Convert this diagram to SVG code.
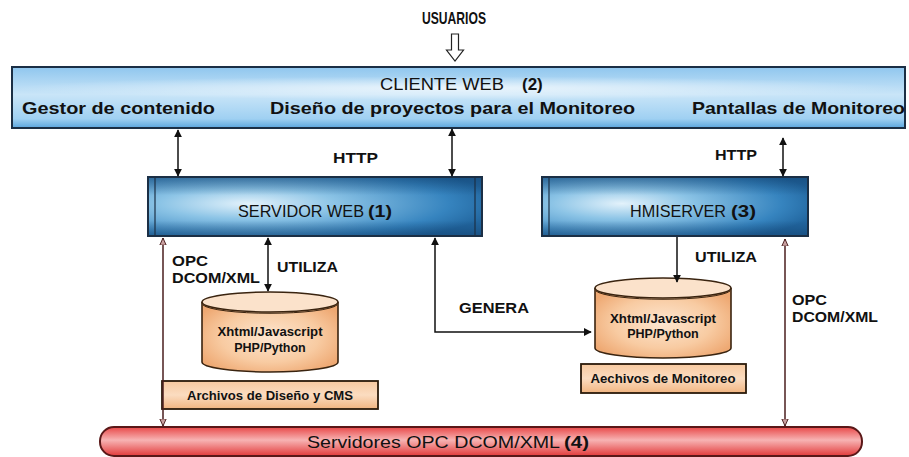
<svg xmlns="http://www.w3.org/2000/svg" width="909" height="457" viewBox="0 0 909 457">
  <defs>
    <style>
      .b { font-family: "Liberation Sans", Arial, sans-serif; font-weight: bold; fill: #111; }
      .r { font-family: "Liberation Sans", Arial, sans-serif; fill: #111; }
      .ln { stroke: #111; stroke-width: 1.5; fill: none; }
      .opc { stroke: #4a1e1e; stroke-width: 1.5; fill: none; }
      .box { stroke: #1b2f45; stroke-width: 2; }
      .cyl { fill: url(#peach); stroke: #3a2410; stroke-width: 1.6; }
      .file { fill: url(#peachFlat); stroke: #2a1a0a; stroke-width: 1.8; }
    </style>
    <linearGradient id="client" x1="0" y1="0" x2="0" y2="1">
      <stop offset="0" stop-color="#8fc6ee"/>
      <stop offset="0.45" stop-color="#c9e5f8"/>
      <stop offset="0.85" stop-color="#9fd0f2"/>
      <stop offset="1" stop-color="#5aa6de"/>
    </linearGradient>
    <radialGradient id="clientGlow" cx="0.5" cy="0.35" r="0.5" gradientTransform="matrix(1 0 0 0.4 0 0.2)">
      <stop offset="0" stop-color="#ffffff" stop-opacity="0.7"/>
      <stop offset="1" stop-color="#ffffff" stop-opacity="0"/>
    </radialGradient>
    <radialGradient id="server" cx="0.3" cy="0.45" r="0.75">
      <stop offset="0" stop-color="#e3f2fb"/>
      <stop offset="0.35" stop-color="#8cc4e6"/>
      <stop offset="0.8" stop-color="#3684bf"/>
      <stop offset="1" stop-color="#22669f"/>
    </radialGradient>
    <linearGradient id="serverShade" x1="0" y1="0" x2="0" y2="1">
      <stop offset="0" stop-color="#0e3a66" stop-opacity="0.45"/>
      <stop offset="0.3" stop-color="#0e3a66" stop-opacity="0"/>
      <stop offset="0.75" stop-color="#0e3a66" stop-opacity="0"/>
      <stop offset="1" stop-color="#0e3a66" stop-opacity="0.45"/>
    </linearGradient>
    <radialGradient id="peach" cx="0.5" cy="0.5" r="0.6">
      <stop offset="0" stop-color="#fde6d0"/>
      <stop offset="0.6" stop-color="#f8cba2"/>
      <stop offset="1" stop-color="#eea872"/>
    </radialGradient>
    <linearGradient id="peachFlat" x1="0" y1="0" x2="0" y2="1">
      <stop offset="0" stop-color="#f7c9a0"/>
      <stop offset="0.5" stop-color="#fbdcc0"/>
      <stop offset="1" stop-color="#f1b581"/>
    </linearGradient>
    <linearGradient id="opcBar" x1="0" y1="0" x2="0" y2="1">
      <stop offset="0" stop-color="#e84848"/>
      <stop offset="0.45" stop-color="#f7b3b3"/>
      <stop offset="1" stop-color="#e23a3a"/>
    </linearGradient>
    <marker id="ah" viewBox="0 0 10 10" refX="9" refY="5" markerWidth="8" markerHeight="8" markerUnits="userSpaceOnUse" orient="auto-start-reverse">
      <path d="M0,0 L10,5 L0,10 z" fill="#111"/>
    </marker>
    <marker id="ahOpen" viewBox="0 0 10 10" refX="9" refY="5" markerWidth="8" markerHeight="8" markerUnits="userSpaceOnUse" orient="auto-start-reverse">
      <path d="M0,1 L9,5 L0,9 z" fill="#c9a0a0" stroke="#4a1e1e" stroke-width="1.2"/>
    </marker>
  </defs>

  <rect width="909" height="457" fill="#ffffff"/>

  <!-- users entry -->
  <g id="usuarios">
    <text class="b" x="454" y="24" font-size="17" text-anchor="middle" textLength="64" lengthAdjust="spacingAndGlyphs">USUARIOS</text>
    <polygon points="451.5,34 458.5,34 458.5,50 463.5,50 455,61 446.5,50 451.5,50" fill="#fff" stroke="#222" stroke-width="1.2"/>
  </g>

  <!-- web client -->
  <g id="cliente-web">
    <rect class="box" x="12" y="67" width="893" height="61" fill="url(#client)"/>
    <rect x="13" y="68" width="891" height="59" fill="url(#clientGlow)"/>
    <text class="r" x="380" y="90" font-size="17" textLength="124" lengthAdjust="spacingAndGlyphs">CLIENTE WEB</text>
    <text class="b" x="522" y="90" font-size="17">(2)</text>
    <text class="b" x="22" y="114" font-size="17" textLength="193" lengthAdjust="spacingAndGlyphs">Gestor de contenido</text>
    <text class="b" x="270" y="114" font-size="17" textLength="365" lengthAdjust="spacingAndGlyphs">Diseño de proyectos para el Monitoreo</text>
    <text class="b" x="692" y="114" font-size="17" textLength="213" lengthAdjust="spacingAndGlyphs">Pantallas de Monitoreo</text>
  </g>

  <!-- web server -->
  <g id="servidor-web">
    <rect class="box" x="148" y="177" width="334" height="59" fill="url(#server)"/>
    <rect x="149" y="178" width="332" height="57" fill="url(#serverShade)"/>
    <line x1="155" y1="177" x2="155" y2="236" stroke="#1b2f45" stroke-width="1.2"/>
    <line x1="475" y1="177" x2="475" y2="236" stroke="#1b2f45" stroke-width="1.2"/>
    <text class="r" x="238" y="217" font-size="17" textLength="126" lengthAdjust="spacingAndGlyphs">SERVIDOR WEB</text>
    <text class="b" x="368" y="217" font-size="17" textLength="24" lengthAdjust="spacingAndGlyphs">(1)</text>
  </g>

  <!-- HMI server -->
  <g id="hmiserver">
    <rect class="box" x="542" y="177" width="266" height="59" fill="url(#server)"/>
    <rect x="543" y="178" width="264" height="57" fill="url(#serverShade)"/>
    <line x1="549" y1="177" x2="549" y2="236" stroke="#1b2f45" stroke-width="1.2"/>
    <text class="r" x="630" y="217" font-size="17" textLength="96" lengthAdjust="spacingAndGlyphs">HMISERVER</text>
    <text class="b" x="731" y="217" font-size="17" textLength="25" lengthAdjust="spacingAndGlyphs">(3)</text>
  </g>

  <!-- design repository -->
  <g id="repo-diseno">
    <path class="cyl" d="M202,302 L202,362 A68,10 0 0 0 338,362 L338,302"/>
    <ellipse cx="270" cy="302" rx="68" ry="10" fill="#fbe2cb" stroke="#3a2410" stroke-width="1.6"/>
    <path d="M203,305 A68,10 0 0 0 337,305" fill="none" stroke="#3a2410" stroke-width="1"/>
    <text class="b" x="270" y="336" font-size="12.5" text-anchor="middle" textLength="105" lengthAdjust="spacingAndGlyphs">Xhtml/Javascript</text>
    <text class="b" x="270" y="352" font-size="12.5" text-anchor="middle">PHP/Python</text>
  </g>
  <g id="archivos-diseno">
    <rect class="file" x="162" y="381" width="216" height="28"/>
    <text class="b" x="270" y="400" font-size="12.5" text-anchor="middle" textLength="166" lengthAdjust="spacingAndGlyphs">Archivos de Diseño y CMS</text>
  </g>

  <!-- monitoring repository -->
  <g id="repo-monitoreo">
    <path class="cyl" d="M595,288 L595,348 A68,10 0 0 0 731,348 L731,288"/>
    <ellipse cx="663" cy="288" rx="68" ry="10" fill="#fbe2cb" stroke="#3a2410" stroke-width="1.6"/>
    <path d="M596,291 A68,10 0 0 0 730,291" fill="none" stroke="#3a2410" stroke-width="1"/>
    <text class="b" x="663" y="323" font-size="12.5" text-anchor="middle" textLength="106" lengthAdjust="spacingAndGlyphs">Xhtml/Javascript</text>
    <text class="b" x="663" y="338" font-size="12.5" text-anchor="middle">PHP/Python</text>
  </g>
  <g id="archivos-monitoreo">
    <rect class="file" x="581" y="364" width="165" height="29"/>
    <text class="b" x="663" y="383" font-size="12.5" text-anchor="middle" textLength="145" lengthAdjust="spacingAndGlyphs">Aechivos de Monitoreo</text>
  </g>

  <!-- OPC servers -->
  <g id="servidores-opc">
    <rect x="100" y="427" width="762" height="29" rx="14" ry="14" fill="url(#opcBar)" stroke="#5a1818" stroke-width="2"/>
    <text class="r" x="307" y="448" font-size="17" textLength="253" lengthAdjust="spacingAndGlyphs">Servidores OPC DCOM/XML</text>
    <text class="b" x="564" y="448" font-size="17" textLength="25" lengthAdjust="spacingAndGlyphs">(4)</text>
  </g>

  <!-- connectors -->
  <g id="conectores">
    <line class="ln" x1="178" y1="130" x2="178" y2="176" marker-start="url(#ah)" marker-end="url(#ah)"/>
    <line class="ln" x1="452" y1="129" x2="452" y2="176" marker-start="url(#ah)" marker-end="url(#ah)"/>
    <line class="ln" x1="783" y1="138" x2="783" y2="176" marker-start="url(#ah)" marker-end="url(#ah)"/>
    <line class="ln" x1="268" y1="238" x2="268" y2="291" marker-start="url(#ah)" marker-end="url(#ah)"/>
    <polyline class="ln" points="435,238 435,332 591,332" marker-start="url(#ah)" marker-end="url(#ah)"/>
    <line class="ln" x1="677" y1="237" x2="677" y2="282" marker-end="url(#ah)"/>
    <line class="opc" x1="163" y1="238" x2="163" y2="426" marker-start="url(#ahOpen)" marker-end="url(#ahOpen)"/>
    <line class="opc" x1="785" y1="239" x2="785" y2="426" marker-start="url(#ahOpen)" marker-end="url(#ahOpen)"/>
  </g>

  <!-- connector labels -->
  <g id="etiquetas">
    <text class="b" x="333" y="163" font-size="14" textLength="45" lengthAdjust="spacingAndGlyphs">HTTP</text>
    <text class="b" x="715" y="160" font-size="14" textLength="42" lengthAdjust="spacingAndGlyphs">HTTP</text>
    <text class="b" x="172" y="266" font-size="15" textLength="36" lengthAdjust="spacingAndGlyphs">OPC</text>
    <text class="b" x="172" y="283" font-size="15" textLength="88" lengthAdjust="spacingAndGlyphs">DCOM/XML</text>
    <text class="b" x="277" y="272" font-size="15" textLength="61" lengthAdjust="spacingAndGlyphs">UTILIZA</text>
    <text class="b" x="459" y="313" font-size="15" textLength="70" lengthAdjust="spacingAndGlyphs">GENERA</text>
    <text class="b" x="695" y="262" font-size="15" textLength="62" lengthAdjust="spacingAndGlyphs">UTILIZA</text>
    <text class="b" x="792" y="305" font-size="15" textLength="35" lengthAdjust="spacingAndGlyphs">OPC</text>
    <text class="b" x="792" y="322" font-size="15" textLength="86" lengthAdjust="spacingAndGlyphs">DCOM/XML</text>
  </g>
</svg>
